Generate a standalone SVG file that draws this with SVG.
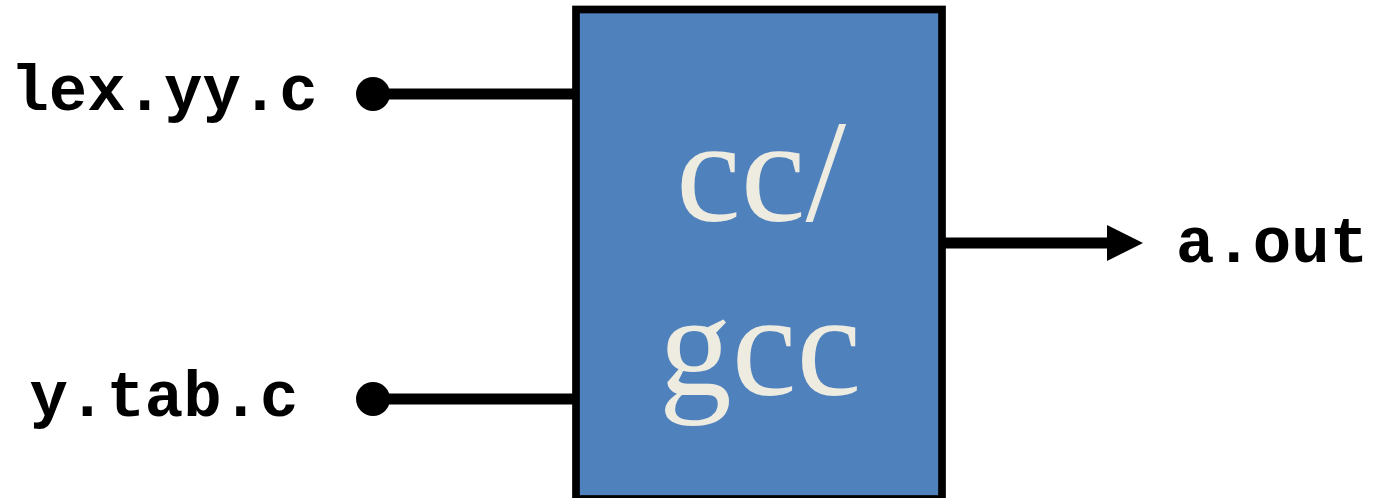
<svg xmlns="http://www.w3.org/2000/svg" width="1373" height="498" viewBox="0 0 1373 498">
  <style>
    .file { font-family: "Liberation Mono", "Courier New", monospace; font-weight: bold; font-size: 64px; fill: #000; }
    .tool { font-family: "Liberation Serif", "Times New Roman", serif; font-size: 146px; fill: #EEECE1; text-anchor: middle; }
    .wire { stroke: #000; stroke-width: 11; fill: none; }
  </style>
  <defs>
    <marker id="arrow" markerUnits="userSpaceOnUse" markerWidth="36" markerHeight="36" refX="0" refY="18" orient="auto">
      <path d="M0,0 L36,18 L0,36 Z" fill="#000"/>
    </marker>
  </defs>

  <g id="connectors">
    <line class="wire" x1="373" y1="94" x2="576" y2="94"/>
    <circle cx="373" cy="94" r="17" fill="#000"/>
    <line class="wire" x1="373" y1="399" x2="576" y2="399"/>
    <circle cx="373" cy="399" r="17" fill="#000"/>
    <line class="wire" x1="942" y1="243" x2="1107" y2="243" marker-end="url(#arrow)"/>
  </g>

  <g id="compiler">
    <rect x="576" y="9.5" width="366" height="489.5" fill="#4F81BD" stroke="#000" stroke-width="7.7"/>
    <text class="tool" x="761" y="221">cc/</text>
    <text class="tool" x="760" y="395">gcc</text>
  </g>

  <g id="lex-output">
    <text class="file" x="164" y="110" text-anchor="middle">lex.yy.c</text>
  </g>
  <g id="yacc-output">
    <text class="file" x="164" y="416" text-anchor="middle">y.tab.c</text>
  </g>
  <g id="executable">
    <text class="file" x="1176" y="262">a.out</text>
  </g>
</svg>
